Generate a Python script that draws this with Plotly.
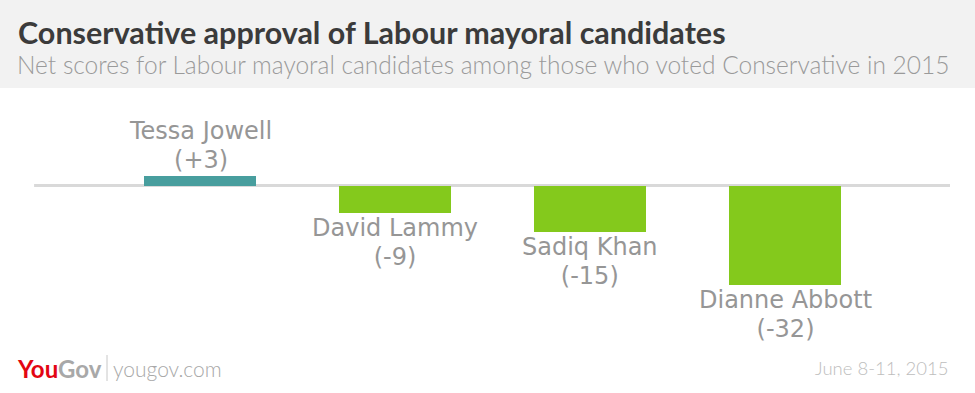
import plotly.graph_objects as go

candidates = ["Tessa Jowell", "David Lammy", "Sadiq Khan", "Dianne Abbott"]
net_scores = [3, -9, -15, -32]
value_labels = ["(+3)", "(-9)", "(-15)", "(-32)"]
bar_colors = ["#489e9e", "#84c91c", "#84c91c", "#84c91c"]

title_text = "Conservative approval of Labour mayoral candidates"
subtitle_text = "Net scores for Labour mayoral candidates among those who voted Conservative in 2015"
date_text = "June 8-11, 2015"

W, H = 975, 393
FONT = "Lato"
LABEL_FONT = "DejaVu Sans"
LABEL_COLOR = "#969696"

x_idx = list(range(len(candidates)))

fig = go.Figure()
fig.add_trace(go.Bar(
    x=x_idx, y=net_scores, marker=dict(color=bar_colors, line=dict(width=0)),
    width=0.574, hoverinfo="skip", showlegend=False,
))

# base size sets ~29px line spacing; glyphs drawn at 24px
lab_font = dict(family=LABEL_FONT, size=22.3, color=LABEL_COLOR, weight=400)
for i, (name, v, lab) in enumerate(zip(candidates, net_scores, value_labels)):
    shift = 30.5 if v >= 0 else -29.5
    txt = (f"<span style='font-size:24px'>{name}</span><br>"
           f"<span style='font-size:24px'>{lab}</span>")
    fig.add_annotation(x=i, y=v, xref="x", yref="y", text=txt,
                       showarrow=False, yanchor="middle", yshift=shift, font=lab_font)

fig.add_shape(type="line", xref="paper", yref="y", x0=-0.001, x1=1.0, y0=0, y1=0,
              line=dict(color="#d9d9d9", width=3), layer="below")

left, right, top, bottom = 35, 25, 100, 53
plot_w = W - left - right
plot_h = H - top - bottom

def px_to_paper_x(px):
    return (px - left) / plot_w

def px_to_paper_y(py):
    return (H - bottom - py) / plot_h

fig.add_shape(type="rect", xref="paper", yref="paper",
              x0=px_to_paper_x(0), x1=px_to_paper_x(W),
              y0=px_to_paper_y(88), y1=px_to_paper_y(0),
              line=dict(width=0), fillcolor="#f2f2f2", layer="below")

fig.add_annotation(xref="paper", yref="paper", x=px_to_paper_x(16), y=px_to_paper_y(32),
                   xanchor="left", yanchor="middle", showarrow=False,
                   text=f"<b>{title_text}</b>",
                   font=dict(family=FONT, size=30.5, color="#3b3b3b"))
fig.add_annotation(xref="paper", yref="paper", x=px_to_paper_x(15), y=px_to_paper_y(64),
                   xanchor="left", yanchor="middle", showarrow=False,
                   text=subtitle_text,
                   font=dict(family=FONT, size=24.5, color="#9a9a9a", weight=300))

fig.add_annotation(xref="paper", yref="paper", x=px_to_paper_x(15), y=px_to_paper_y(368),
                   xanchor="left", yanchor="middle", showarrow=False,
                   text="<b><span style='color:#e30613'>You</span><span style='color:#a8a8a8'>Gov</span></b>",
                   font=dict(family=FONT, size=24, color="#a8a8a8"))
fig.add_shape(type="line", xref="paper", yref="paper",
              x0=px_to_paper_x(107), x1=px_to_paper_x(107),
              y0=px_to_paper_y(355), y1=px_to_paper_y(381),
              line=dict(color="#c8c8c8", width=1))
fig.add_annotation(xref="paper", yref="paper", x=px_to_paper_x(111), y=px_to_paper_y(368),
                   xanchor="left", yanchor="middle", showarrow=False,
                   text="yougov.com",
                   font=dict(family=FONT, size=21, color="#a8a8a8", weight=300))
fig.add_annotation(xref="paper", yref="paper", x=px_to_paper_x(950), y=px_to_paper_y(368),
                   xanchor="right", yanchor="middle", showarrow=False,
                   text=date_text,
                   font=dict(family=FONT, size=18.5, color="#bdbdbd", weight=300))

zero_px = 185.5
scale = 3.1
y_top = (zero_px - top) / scale
y_bot = -(H - bottom - zero_px) / scale
x_lo = (left - 200) / 195
x_hi = (W - right - 200) / 195

fig.update_layout(
    width=W, height=H,
    margin=dict(l=left, r=right, t=top, b=bottom, pad=0),
    paper_bgcolor="white", plot_bgcolor="white",
    xaxis=dict(range=[x_lo, x_hi], visible=False, fixedrange=True),
    yaxis=dict(range=[y_bot, y_top], visible=False, fixedrange=True),
    bargap=0,
    font=dict(family=FONT),
)

fig.write_html("out.html", config={"displayModeBar": False},
               post_script="document.body.style.margin='0';document.body.style.padding='0';")
